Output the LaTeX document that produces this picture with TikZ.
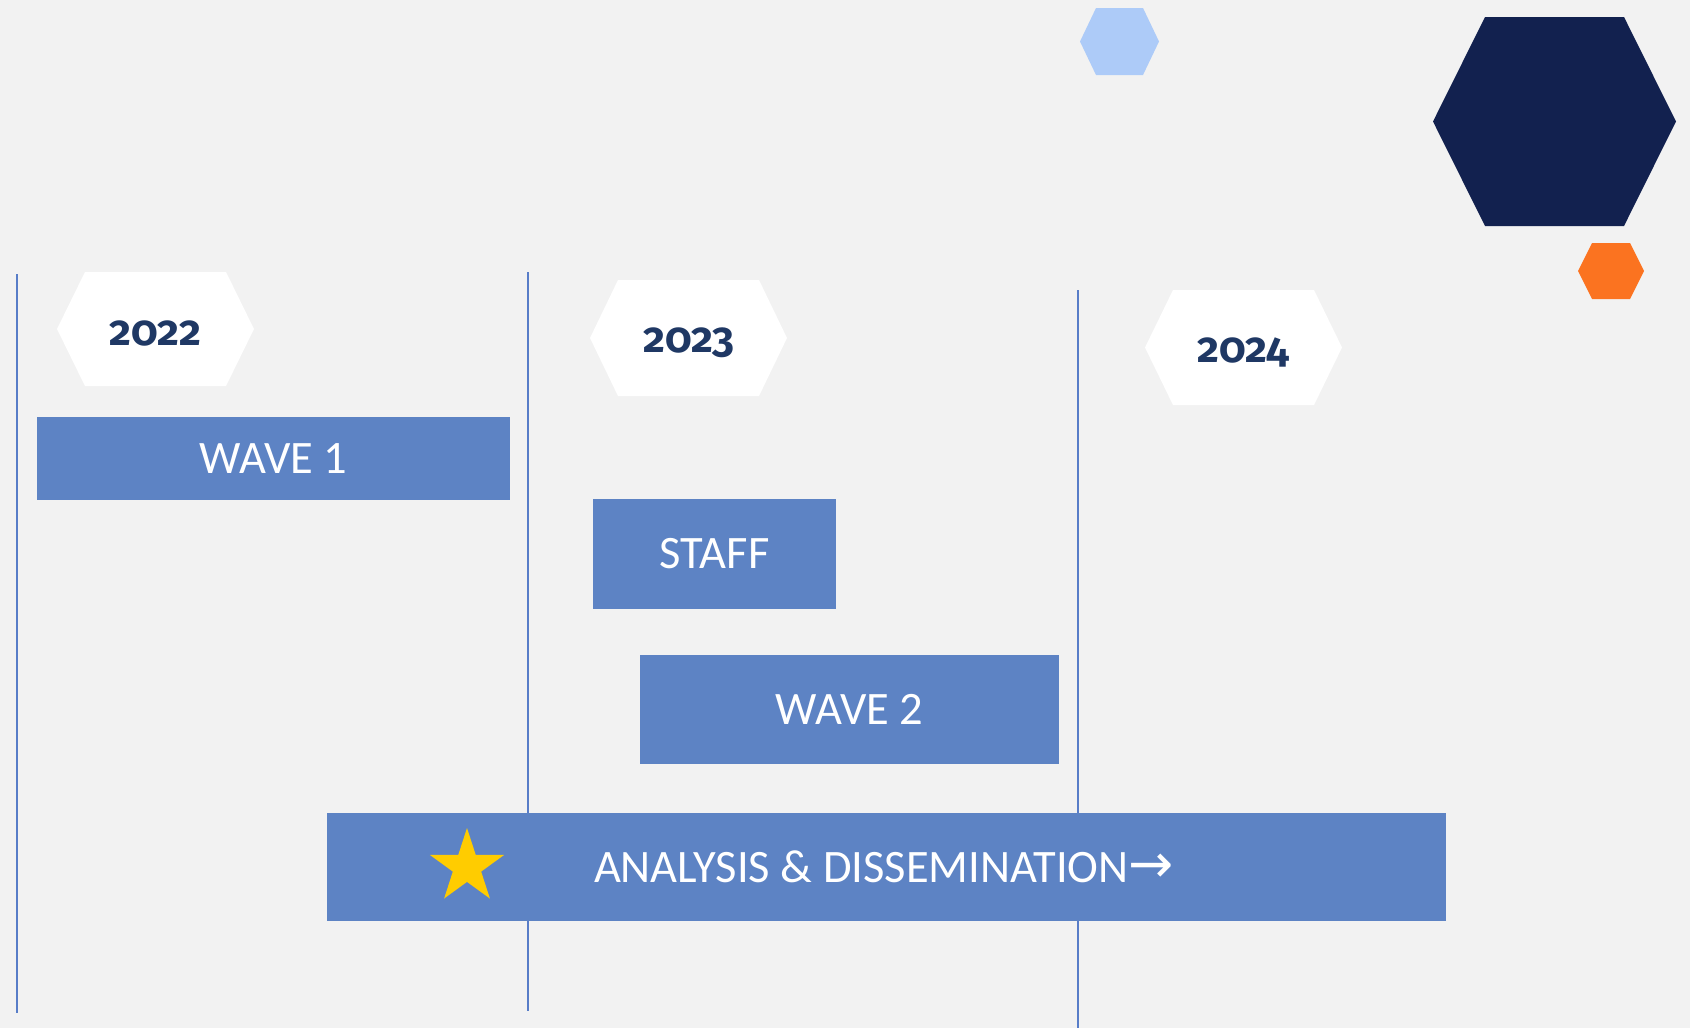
\documentclass[tikz,border=0pt]{standalone}
\usepackage{fontspec}
\setmainfont{Carlito}
\newfontfamily\yearfont[Numbers={OldStyle,Proportional}]{Fira Sans}
\newfontfamily\arrowfont{DejaVu Sans}
\usetikzlibrary{shapes.geometric}
\definecolor{bg}{RGB}{242,242,242}
\definecolor{barblue}{RGB}{93,131,196}
\definecolor{lineblue}{RGB}{88,125,200}
\definecolor{lightblue}{RGB}{173,203,248}
\definecolor{navy}{RGB}{18,33,79}
\definecolor{orangeh}{RGB}{251,115,32}
\definecolor{yeartext}{RGB}{31,56,100}
\definecolor{staryellow}{RGB}{255,204,0}
\newcommand{\myhex}[6]{\fill[#6] (#1-#3,#2) -- (#1-#3+#5,#2-#4) -- (#1+#3-#5,#2-#4) -- (#1+#3,#2) -- (#1+#3-#5,#2+#4) -- (#1-#3+#5,#2+#4) -- cycle;}
\tikzset{
  bar/.style={fill=barblue, text=white, inner sep=0pt, font=\fontsize{46.5}{52}\selectfont},
  yearlabel/.style={text=yeartext, inner sep=0pt, font=\yearfont\bfseries\fontsize{42.5}{48}\selectfont},
  divider/.style={draw=lineblue, line width=2.4pt},
}
\begin{document}
\begin{tikzpicture}[x=1pt,y=-1pt]
\useasboundingbox (0,0) rectangle (1690,1028);
\fill[bg] (0,0) rectangle (1690,1028);
% divider lines
\coordinate (l1t) at (17,274); \coordinate (l1b) at (17,1013);
\coordinate (l2t) at (528,272); \coordinate (l2b) at (528,1011);
\coordinate (l3t) at (1078,290); \coordinate (l3b) at (1078,1028);
\draw[divider] (l1t) -- (l1b);
\draw[divider] (l2t) -- (l2b);
\draw[divider] (l3t) -- (l3b);
% decorative hexagons
\myhex{1119.5}{41.5}{39.5}{33.5}{16}{lightblue}
\myhex{1554.5}{121.5}{121.5}{104.5}{52}{navy}
\myhex{1611}{271}{33}{28}{14}{orangeh}
% year hexagons
\myhex{155.5}{329}{98.5}{57}{28}{white}
\myhex{688.5}{338}{98.5}{58}{28}{white}
\myhex{1243.5}{347.5}{98.5}{57.5}{28}{white}
\node[yearlabel] (y2022) at (155.5,333.5) {2022};
\node[yearlabel] (y2023) at (688.5,342.5) {2023};
\node[yearlabel] (y2024) at (1243.5,352) {2024};
% bars
\node[bar, minimum width=473pt, minimum height=83pt] (wave1) at (273.5,458.5) {WAVE 1};
\node[bar, minimum width=243pt, minimum height=110pt] (staff) at (714.5,554) {STAFF};
\node[bar, minimum width=419pt, minimum height=109pt] (wave2) at (849.5,709.5) {WAVE 2};
\node[bar, minimum width=1119pt, minimum height=108pt] (analysis) at (886.5,867) {};
\node[text=white, inner sep=0pt, font=\fontsize{46.5}{52}\selectfont] (atext) at (884,867) {ANALYSIS \& DISSEMINATION{\arrowfont\fontsize{54}{58}\selectfont →}};
\node[star, star points=5, star point ratio=2.618, minimum size=78pt, inner sep=0pt, fill=staryellow] (star) at (467,867) {};
\end{tikzpicture}
\end{document}
